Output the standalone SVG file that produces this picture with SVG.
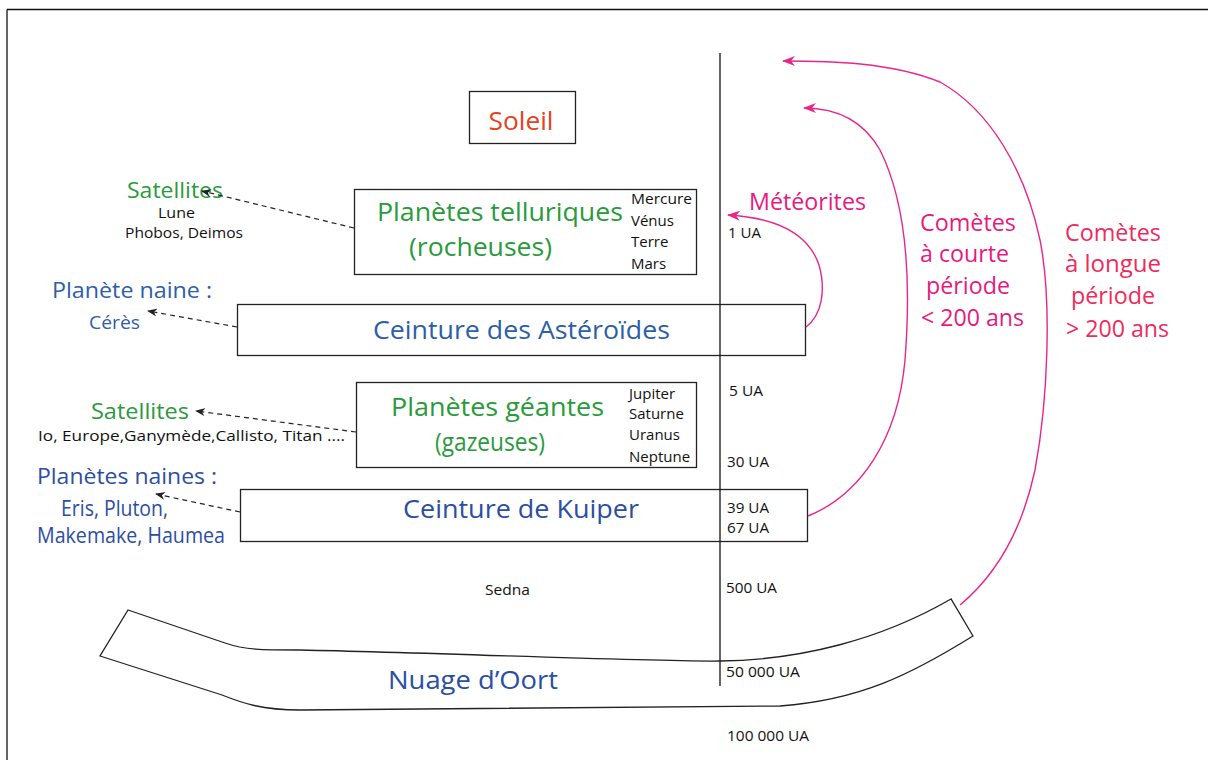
<svg xmlns="http://www.w3.org/2000/svg" width="1208" height="760" viewBox="0 0 1208 760">
<style>
text{font-family:"Open Sans","Noto Sans","Liberation Sans",sans-serif}
.box{fill:#fff;stroke:#222;stroke-width:1.3}
.green{fill:#2a9a3c}
.blue{fill:#2d5ea8}
.dblue{fill:#2b4ea2}
.big{font-size:25px}
.mid{font-size:21px}
.sm{font-size:15px;fill:#111}
.ua{font-size:15px;fill:#111}
.pink{fill:#e8197d;font-size:23.5px}
.red{fill:#ef2a5c;font-size:23.5px}
.dash{fill:none;stroke:#222;stroke-width:1.2;stroke-dasharray:5 4}
.cur{fill:none;stroke:#e8268a;stroke-width:1.4}
</style>
<defs>
<marker id="ah" markerWidth="10" markerHeight="8" refX="9" refY="4" orient="auto" markerUnits="userSpaceOnUse">
<path d="M10,4 L0,0 L3,4 L0,8 Z" fill="#222"/>
</marker>
<marker id="ap" markerWidth="13" markerHeight="10" refX="12" refY="5" orient="auto" markerUnits="userSpaceOnUse">
<path d="M13,5 L0,0 L4,5 L0,10 Z" fill="#e8268a"/>
</marker>
</defs>
<rect width="1208" height="760" fill="#fff"/>
<g id="frame">
<line x1="7" y1="9.5" x2="1208" y2="9.5" stroke="#111" stroke-width="1.5"/>
<line x1="7" y1="9.5" x2="7" y2="760" stroke="#111" stroke-width="1.3"/>
</g>
<g id="soleil">
<rect class="box" x="469.5" y="91.5" width="106" height="52"/>
<text x="521" y="130" text-anchor="middle" font-size="26" fill="#e5421d" textLength="65" lengthAdjust="spacingAndGlyphs">Soleil</text>
</g>
<g id="telluriques">
<rect class="box" x="354.5" y="189.5" width="342" height="85"/>
<text class="green big" x="500" y="221" text-anchor="middle" textLength="246" lengthAdjust="spacingAndGlyphs">Planètes telluriques</text>
<text class="green big" x="480.5" y="256" text-anchor="middle" textLength="143" lengthAdjust="spacingAndGlyphs">(rocheuses)</text>
<text class="sm" x="631" y="204" textLength="61" lengthAdjust="spacingAndGlyphs">Mercure</text>
<text class="sm" x="631" y="226">Vénus</text>
<text class="sm" x="631" y="247">Terre</text>
<text class="sm" x="631" y="269">Mars</text>
</g>
<g id="sat1">
<text class="green mid" x="175" y="198" text-anchor="middle" textLength="96" lengthAdjust="spacingAndGlyphs">Satellites</text>
<text class="sm" x="176.5" y="218" text-anchor="middle" textLength="37" lengthAdjust="spacingAndGlyphs">Lune</text>
<text class="sm" x="184" y="238" text-anchor="middle" textLength="118" lengthAdjust="spacingAndGlyphs">Phobos, Deimos</text>
</g>
<g id="asteroides">
<rect class="box" x="237.5" y="304.5" width="568" height="51"/>
<text class="blue big" x="521.5" y="339" text-anchor="middle" textLength="297" lengthAdjust="spacingAndGlyphs">Ceinture des Astéroïdes</text>
</g>
<g id="ceres">
<text class="blue mid" x="132" y="298" text-anchor="middle" textLength="160" lengthAdjust="spacingAndGlyphs">Planète naine :</text>
<text class="blue" x="114.5" y="329" text-anchor="middle" font-size="19" textLength="51" lengthAdjust="spacingAndGlyphs">Cérès</text>
</g>
<g id="geantes">
<rect class="box" x="356.5" y="382.5" width="340" height="85"/>
<text class="green big" x="497.5" y="416" text-anchor="middle" textLength="213" lengthAdjust="spacingAndGlyphs">Planètes géantes</text>
<text class="green big" x="490" y="451" text-anchor="middle" textLength="110" lengthAdjust="spacingAndGlyphs">(gazeuses)</text>
<text class="sm" x="629" y="399">Jupiter</text>
<text class="sm" x="629" y="419">Saturne</text>
<text class="sm" x="629" y="440">Uranus</text>
<text class="sm" x="629" y="462">Neptune</text>
</g>
<g id="sat2">
<text class="green mid" x="140" y="419" text-anchor="middle" textLength="98" lengthAdjust="spacingAndGlyphs">Satellites</text>
<text class="sm" x="38" y="441" textLength="307" lengthAdjust="spacingAndGlyphs">Io,  Europe,Ganymède,Callisto, Titan ....</text>
</g>
<g id="kuiper">
<rect class="box" x="240.5" y="489.5" width="567" height="52"/>
<text class="dblue big" x="521" y="518" text-anchor="middle" textLength="236" lengthAdjust="spacingAndGlyphs">Ceinture de Kuiper</text>
</g>
<g id="naines">
<text class="dblue mid" x="127" y="484" text-anchor="middle" textLength="180" lengthAdjust="spacingAndGlyphs">Planètes naines :</text>
<text class="dblue mid" x="114.5" y="516" text-anchor="middle" textLength="107" lengthAdjust="spacingAndGlyphs">Eris, Pluton,</text>
<text class="dblue mid" x="131" y="543" text-anchor="middle" textLength="188" lengthAdjust="spacingAndGlyphs">Makemake, Haumea</text>
</g>
<g id="oort">
<path class="box" d="M128,610 L225,643 C245,650 262,650 300,650 C450,653 650,662 720,661 C800,660 880,640 951,599 L973,636 C910,675 860,700 780,706 L300,710 C262,710 242,703 222,695 L100,656 Z"/>
<text class="dblue big" x="473" y="689" text-anchor="middle" textLength="170" lengthAdjust="spacingAndGlyphs">Nuage d’Oort</text>
</g>
<g id="sedna"><text class="sm" x="507.5" y="595" text-anchor="middle" textLength="45" lengthAdjust="spacingAndGlyphs">Sedna</text></g>
<g id="axis">
<line x1="720" y1="53" x2="720" y2="686" stroke="#111" stroke-width="1.3"/>
<text class="ua" x="728" y="238" textLength="33" lengthAdjust="spacingAndGlyphs">1 UA</text>
<text class="ua" x="729" y="396" textLength="34" lengthAdjust="spacingAndGlyphs">5 UA</text>
<text class="ua" x="727" y="467" textLength="42" lengthAdjust="spacingAndGlyphs">30 UA</text>
<text class="ua" x="727" y="513" textLength="42" lengthAdjust="spacingAndGlyphs">39 UA</text>
<text class="ua" x="727" y="533" textLength="42" lengthAdjust="spacingAndGlyphs">67 UA</text>
<text class="ua" x="726" y="593" textLength="51" lengthAdjust="spacingAndGlyphs">500 UA</text>
<text class="ua" x="726" y="677" textLength="74" lengthAdjust="spacingAndGlyphs">50 000 UA</text>
<text class="ua" x="727" y="741" textLength="82" lengthAdjust="spacingAndGlyphs">100 000 UA</text>
</g>
<g id="labels">
<text class="pink" x="749" y="210" textLength="117" lengthAdjust="spacingAndGlyphs">Météorites</text>
<text class="pink" x="920" y="231" textLength="96" lengthAdjust="spacingAndGlyphs">Comètes</text>
<text class="pink" x="920" y="262" textLength="89" lengthAdjust="spacingAndGlyphs">à courte</text>
<text class="pink" x="926" y="294" textLength="84" lengthAdjust="spacingAndGlyphs">période</text>
<text class="pink" x="921" y="326" textLength="103" lengthAdjust="spacingAndGlyphs">&lt; 200 ans</text>
<text class="red" x="1065" y="241" textLength="96" lengthAdjust="spacingAndGlyphs">Comètes</text>
<text class="red" x="1065" y="272" textLength="96" lengthAdjust="spacingAndGlyphs">à longue</text>
<text class="red" x="1071" y="304" textLength="84" lengthAdjust="spacingAndGlyphs">période</text>
<text class="red" x="1066" y="337" textLength="103" lengthAdjust="spacingAndGlyphs">&gt; 200 ans</text>
</g>
<g id="connectors">
<path class="dash" d="M354,228 L202,191" marker-end="url(#ah)"/>
<path class="dash" d="M237,327 L148,311" marker-end="url(#ah)"/>
<path class="dash" d="M356,432 L196,411" marker-end="url(#ah)"/>
<path class="dash" d="M240,512 L156,494" marker-end="url(#ah)"/>
<path class="cur" d="M806,327 C822,315 826,290 819,265 C809,235 780,218 728,215" marker-end="url(#ap)"/>
<path class="cur" d="M808,516 C860,495 898,440 905,360 C912,270 905,200 880,150 C860,115 830,108 804,108" marker-end="url(#ap)"/>
<path class="cur" d="M960,605 C990,580 1020,540 1035,470 C1048,400 1052,300 1040,240 C1025,170 990,110 940,82 C890,62 830,61 783,61" marker-end="url(#ap)"/>
</g>
</svg>
